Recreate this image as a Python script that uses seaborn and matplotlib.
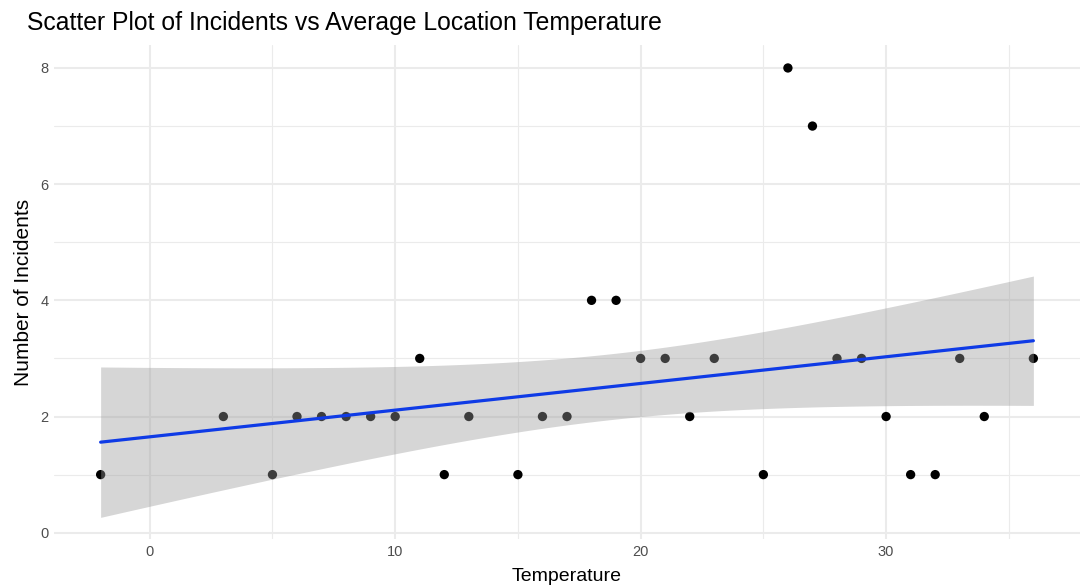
import numpy as np
import pandas as pd
import matplotlib
matplotlib.use("Agg")
import matplotlib.pyplot as plt
import seaborn as sns

temperature = [-2, 3, 5, 6, 7, 8, 9, 10, 11, 12, 13, 15, 16, 17, 18, 19, 20,
               21, 22, 23, 25, 26, 27, 28, 29, 30, 31, 32, 33, 34, 36]
incidents = [1, 2, 1, 2, 2, 2, 2, 2, 3, 1, 2, 1, 2, 2, 4, 4, 3,
             3, 2, 3, 1, 8, 7, 3, 3, 2, 1, 1, 3, 2, 3]
x_ticks = [0, 10, 20, 30]
y_ticks = [0, 2, 4, 6, 8]

df = pd.DataFrame({"Temperature": temperature, "Incidents": incidents})

sns.set_theme(style="white")
plt.rcParams["font.family"] = ["Liberation Sans", "DejaVu Sans"]

fig = plt.figure(figsize=(10.8, 5.87), dpi=100)
ax = fig.add_axes([0.05, 0.0818, 0.95, 0.8416])

# grid
for v in [5, 15, 25, 35]:
    ax.axvline(v, color="#EBEBEB", lw=0.8, zorder=0)
for v in [1, 3, 5, 7]:
    ax.axhline(v, color="#EBEBEB", lw=0.8, zorder=0)
for v in x_ticks:
    ax.axvline(v, color="#EBEBEB", lw=1.5, zorder=0)
for v in y_ticks:
    ax.axhline(v, color="#EBEBEB", lw=1.5, zorder=0)

sns.scatterplot(data=df, x="Temperature", y="Incidents", color="black",
                s=45, edgecolor="none", ax=ax, zorder=2)

# linear model confidence band (t-based, 95%)
x = np.asarray(temperature, float)
y = np.asarray(incidents, float)
n = len(x)
b1, b0 = np.polyfit(x, y, 1)
resid = y - (b0 + b1 * x)
s = np.sqrt(np.sum(resid ** 2) / (n - 2))
grid = np.linspace(x.min(), x.max(), 200)
se = s * np.sqrt(1 / n + (grid - x.mean()) ** 2 / np.sum((x - x.mean()) ** 2))
tval = 2.045
fit = b0 + b1 * grid
ax.fill_between(grid, fit - tval * se, fit + tval * se, color="#999999",
                alpha=0.4, lw=0, zorder=3)

sns.regplot(data=df, x="Temperature", y="Incidents", scatter=False, ci=None,
            truncate=True, color="#0F3BE6", line_kws={"lw": 2.3, "zorder": 4},
            ax=ax)

ax.set_xlim(-3.9, 37.9)
ax.set_ylim(-0.108, 8.396)
ax.set_xticks(x_ticks)
ax.set_yticks(y_ticks)
ax.tick_params(axis="both", length=0, labelsize=10.5, labelcolor="#4D4D4D", pad=4)
for sp in ax.spines.values():
    sp.set_visible(False)
ax.set_xlabel("Temperature", fontsize=14, color="black", labelpad=7)
ax.set_ylabel("Number of Incidents", fontsize=15, color="black", labelpad=5)

fig.text(27 / 1080, 1 - 30 / 587, "Scatter Plot of Incidents vs Average Location Temperature",
         fontsize=17.8, color="black", ha="left", va="baseline")

fig.savefig("out.png", dpi=100)
